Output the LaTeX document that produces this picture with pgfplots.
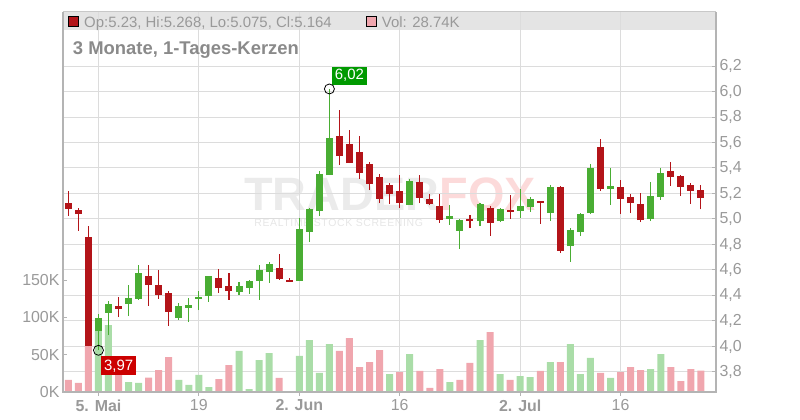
\documentclass[border=0pt]{standalone}
\usepackage{fontspec}
\setmainfont{Liberation Sans}
\usepackage{pgfplots}
\usepackage{pgfplotstable}
\pgfplotsset{compat=1.18}
\definecolor{cred}{HTML}{B31419}
\definecolor{cgreen}{HTML}{49AD33}
\definecolor{vred}{HTML}{F0A6AE}
\definecolor{vgreen}{HTML}{AADDA8}
\definecolor{gridgray}{HTML}{DCDCDC}
\definecolor{axisgray}{HTML}{B4B4B4}
\definecolor{tickgray}{HTML}{999999}
\definecolor{titlegray}{HTML}{8A8A8A}
\definecolor{headgray}{HTML}{E4E4E4}
\definecolor{headline}{HTML}{C8C8C8}
\definecolor{wmgray}{HTML}{EBEBEB}
\definecolor{wmgray2}{HTML}{E6E6E6}
\definecolor{wmpink}{HTML}{FCDADA}
\definecolor{labred}{HTML}{CC0000}
\definecolor{labgreen}{HTML}{009A00}

\pgfplotstableread{
i O H L C
0 5.125 5.220 5.024 5.078
1 5.070 5.086 4.906 5.039
2 4.859 4.945 4.000 4.004
5 4.318 4.388 4.231 4.294
8 4.553 4.639 4.318 4.482
9 4.482 4.600 4.373 4.404
10 4.420 4.435 4.161 4.271
15 4.537 4.608 4.420 4.459
16 4.474 4.576 4.365 4.435
21 4.616 4.725 4.522 4.529
22 4.522 4.537 4.506 4.506
27 5.651 5.855 5.424 5.494
28 5.588 5.698 5.439 5.439
29 5.526 5.651 5.314 5.361
30 5.431 5.447 5.227 5.275
31 5.329 5.353 5.125 5.157
32 5.267 5.282 5.118 5.196
33 5.220 5.345 5.086 5.125
35 5.290 5.345 5.125 5.165
36 5.157 5.196 5.110 5.118
37 5.102 5.196 4.969 4.992
40 5.000 5.031 4.929 4.984
42 5.086 5.102 4.867 4.969
44 5.070 5.188 5.000 5.055
47 5.141 5.141 4.961 5.125
49 5.251 5.259 4.733 4.749
53 5.565 5.627 5.220 5.235
55 5.251 5.306 5.039 5.157
56 5.173 5.196 5.047 5.125
57 5.118 5.204 4.976 4.992
60 5.376 5.447 5.259 5.329
61 5.337 5.345 5.180 5.251
62 5.267 5.282 5.118 5.220
63 5.230 5.268 5.075 5.164
}\down

\pgfplotstableread{
i O H L C
3 4.121 4.255 3.970 4.224
4 4.263 4.357 4.090 4.333
6 4.333 4.482 4.239 4.380
7 4.373 4.639 4.365 4.576
11 4.224 4.341 4.208 4.318
12 4.302 4.380 4.192 4.325
13 4.373 4.435 4.286 4.388
14 4.396 4.553 4.349 4.553
17 4.427 4.506 4.404 4.474
18 4.459 4.522 4.412 4.514
19 4.514 4.639 4.365 4.600
20 4.584 4.663 4.498 4.647
23 4.514 5.008 4.514 4.922
24 4.898 5.086 4.820 5.078
25 5.063 5.376 5.023 5.353
26 5.345 6.020 5.345 5.635
34 5.110 5.314 5.110 5.298
38 5.000 5.110 4.953 5.023
39 4.906 5.000 4.765 4.992
41 4.984 5.125 4.945 5.118
43 4.984 5.086 4.976 5.078
45 5.063 5.235 5.008 5.102
46 5.094 5.173 5.055 5.157
48 5.047 5.267 4.984 5.251
50 4.788 4.929 4.663 4.914
51 4.898 5.047 4.867 5.039
52 5.047 5.431 5.039 5.400
54 5.235 5.400 5.110 5.259
58 5.000 5.290 4.984 5.180
59 5.173 5.400 5.149 5.361
}\up

\pgfplotstableread{
i V
0 16100
1 12100
2 62000
5 25000
8 19200
9 29500
10 46900
15 17400
16 36200
21 18800
27 55000
28 72400
29 33500
30 40200
31 56300
33 26800
35 28200
36 5400
37 30800
39 16100
40 38900
42 80400
44 16100
47 28200
49 40200
53 25500
55 26800
56 33500
57 29500
60 33500
61 14700
62 30800
63 28740
}\voldown

\pgfplotstableread{
i V
3 81800
4 89800
6 13400
7 12100
11 16100
12 9400
13 22800
14 6700
17 55000
18 4000
19 42900
20 52300
23 48300
24 69700
25 25500
26 64300
32 24100
34 50900
38 13400
41 69700
43 24100
45 21400
46 20100
48 40200
50 64300
51 24100
52 45600
54 18800
58 30800
59 50900
}\volup

\pgfplotsset{
  base/.style={at={(63bp,28bp)}, anchor=south west, width=653bp, height=380.3bp,
    scale only axis, xmin=-0.53, xmax=64.5, axis line style={draw=none}},
  pricey/.style={ymin=3.643, ymax=6.626, ytick={3.8,4.0,4.2,4.4,4.6,4.8,5.0,5.2,5.4,5.6,5.8,6.0,6.2}},
}
\newcommand{\tfont}{\fontsize{16}{16}\selectfont}

\begin{document}
\begin{tikzpicture}
\useasboundingbox (0,0) rectangle (800bp,420bp);
% header bar
\fill[headgray] (63bp,390bp) rectangle (716bp,408.3bp);
% watermark
\node[inner sep=0pt, anchor=base, text height=34bp, text depth=0pt] at (390bp,209.5bp) {\fontsize{47}{47}\selectfont\bfseries\color{wmgray}TRADER\color{wmpink}FOX};
\node[inner sep=0pt, anchor=base, text height=8bp, text depth=0pt, text=wmgray2] at (338.7bp,193.5bp) {\fontsize{10.5}{10.5}\selectfont\addfontfeatures{LetterSpace=6}REALTIME STOCK SCREENING};

% axis 1: grid only
\begin{axis}[base, pricey, xtick={3,13,23,33,45,55},
  xticklabels={,,,,,}, yticklabels={,,,,,,,,,,,,},
  major tick length=0pt, grid=major, grid style={draw=gridgray, line width=1bp}]
\addplot[draw=none] coordinates {(0,5)};
\end{axis}

% axis 2: volume
\begin{axis}[base, ymin=0, ymax=510000, xtick=\empty,
  ytick={0,50000,100000,150000}, yticklabels={0K,50K,100K,150K},
  ytick pos=left, tick align=inside, major tick length=4bp,
  tick style={draw=axisgray, line width=1bp}, scaled y ticks=false,
  yticklabel style={font=\tfont, text=tickgray}]
\addplot[ybar, bar width=7bp, bar shift=0pt, fill=vred, draw=none] table[x=i,y=V]{\voldown};
\addplot[ybar, bar width=7bp, bar shift=0pt, fill=vgreen, draw=none] table[x=i,y=V]{\volup};
\end{axis}

% axis 3: price candles
\begin{axis}[base, pricey, xtick=\empty, ytick pos=right, yticklabel pos=right,
  tick align=inside, major tick length=4bp, tick style={draw=axisgray, line width=1bp},
  yticklabel style={font=\tfont, text=tickgray, /pgf/number format/.cd, use comma, fixed, fixed zerofill, precision=1, assume math mode=true}]
% wicks
\addplot[draw=none, forget plot, error bars/.cd, y dir=plus, y explicit, error mark=none,
  error bar style={draw=cred, line width=1.1bp}] table[x=i, y=L, y error expr=\thisrow{H}-\thisrow{L}]{\down};
\addplot[draw=none, forget plot, error bars/.cd, y dir=plus, y explicit, error mark=none,
  error bar style={draw=cgreen, line width=1.1bp}] table[x=i, y=L, y error expr=\thisrow{H}-\thisrow{L}]{\up};
% bodies
\addplot[draw=none, forget plot, error bars/.cd, y dir=plus, y explicit, error mark=none,
  error bar style={draw=cred, line width=7bp}] table[x=i, y=C, y error expr=\thisrow{O}-\thisrow{C}]{\down};
\addplot[draw=none, forget plot, error bars/.cd, y dir=plus, y explicit, error mark=none,
  error bar style={draw=cgreen, line width=7bp}] table[x=i, y=O, y error expr=\thisrow{C}-\thisrow{O}]{\up};
% extreme markers
\addplot[only marks, mark=o, mark size=5bp, mark options={draw=black, line width=0.8bp}] coordinates {(26,6.02) (3,3.97)};
\node[fill=labgreen, text=white, font=\fontsize{15}{15}\selectfont, inner sep=0pt, minimum width=35bp, minimum height=18.3bp, anchor=south west] at (axis cs:26.23,6.051) {6,02};
\node[fill=labred, text=white, font=\fontsize{15}{15}\selectfont, inner sep=0pt, minimum width=35bp, minimum height=19bp, anchor=north west] at (axis cs:3.257,3.925) {3,97};
\end{axis}

% axis 4: x ticks
\begin{axis}[base, ymin=0, ymax=1, ytick=\empty, xtick={3,13,23,33,45,55},
  xticklabels={\textbf{5. Mai},19,\textbf{2. Jun},16,\textbf{2. Jul},16},
  xtick pos=left, tick align=outside, major tick length=4bp,
  tick style={draw=axisgray, line width=1bp},
  xticklabel style={font=\tfont, text=tickgray}]
\addplot[draw=none] coordinates {(0,0)};
\end{axis}

% frame
\draw[axisgray, line width=1.2bp] (63bp,408.3bp) -- (63bp,28bp) -- (716bp,28bp) -- (716bp,408.3bp);
\draw[headline, line width=1bp] (63bp,408.3bp) -- (716bp,408.3bp);
% header texts
\draw[black, line width=0.8bp, fill=cred] (68.3bp,393.3bp) rectangle (78.3bp,403.3bp);
\node[anchor=base west, inner sep=0pt, text=tickgray, font=\fontsize{15}{15}\selectfont] at (84bp,392.8bp) {Op:5.23, Hi:5.268, Lo:5.075, Cl:5.164};
\draw[black, line width=0.8bp, fill=vred] (366.7bp,393.3bp) rectangle (376.7bp,403.3bp);
\node[anchor=base west, inner sep=0pt, text=tickgray, font=\fontsize{15}{15}\selectfont] at (381.7bp,392.8bp) {Vol: 28.74K};
\node[anchor=base west, inner sep=0pt, text=titlegray, font=\fontsize{18.5}{18.5}\selectfont\bfseries] at (72.7bp,365bp) {3 Monate, 1-Tages-Kerzen};
\end{tikzpicture}
\end{document}
